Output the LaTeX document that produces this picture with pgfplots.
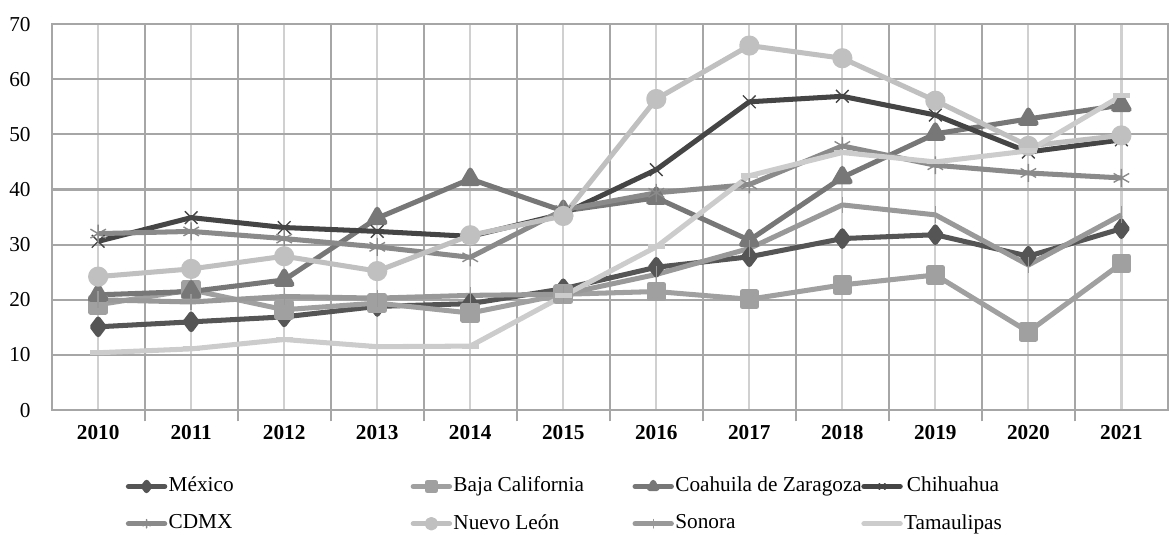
\documentclass[border=0pt]{standalone}
\usepackage{fontspec}
\setmainfont{Liberation Serif}
\usepackage{pgfplots}
\pgfplotsset{compat=1.18}
\definecolor{cmex}{HTML}{555555}
\definecolor{cbaja}{HTML}{A0A0A0}
\definecolor{ccoah}{HTML}{777777}
\definecolor{cchih}{HTML}{454545}
\definecolor{ccdmx}{HTML}{8A8A8A}
\definecolor{cnl}{HTML}{C0C0C0}
\definecolor{cson}{HTML}{999999}
\definecolor{ctam}{HTML}{CCCCCC}
\definecolor{cgrid}{HTML}{A6A6A6}
\definecolor{cgridl}{HTML}{D0D0D0}
\newcommand{\figfont}{\fontsize{7.6}{9}\selectfont}
\newcommand{\lw}[2]{\makebox[#1][l]{#2}}
\begin{document}
\begin{tikzpicture}
\begin{axis}[
  width=399pt, height=138pt, scale only axis,
  xmin=-0.5, xmax=11.5, ymin=0, ymax=70,
  xtick={0,...,11},
  xticklabels={\textbf{2010},\textbf{2011},\textbf{2012},\textbf{2013},\textbf{2014},\textbf{2015},\textbf{2016},\textbf{2017},\textbf{2018},\textbf{2019},\textbf{2020},\textbf{2021}},
  minor x tick num=1,
  ytick={0,10,...,70},
  xmajorgrids, xminorgrids, ymajorgrids,
  major x grid style={cgridl, line width=0.8pt},
  minor x grid style={cgrid, line width=0.8pt},
  major y grid style={cgrid, line width=0.8pt},
  axis line style={cgrid, line width=0.8pt},
  tick pos=left, tick align=outside,
  major tick length=0pt, minor tick length=4pt,
  minor tick style={cgrid, line width=0.8pt},
  tick label style={font=\figfont},
  /pgf/number format/assume math mode=true,
  yticklabel style={xshift=-4pt},
  xticklabel style={yshift=-2pt},
  every axis plot/.append style={line width=1.8pt, line join=round},
  legend columns=4,
  legend style={draw=none, fill=none, font=\figfont, at={(0.066,-0.168)}, anchor=north west,
    inner sep=0pt, row sep=5.5pt, column sep=0pt,
    nodes={inner sep=0.5pt}},
  legend image code/.code={\draw[mark repeat=2,mark phase=2,#1,line cap=round,mark size=1.5pt] plot coordinates {(0pt,0pt) (6.5pt,0pt) (13pt,0pt)};},
]
\addplot[cmex, mark=diamond*, mark size=2.8pt] coordinates {(0,15.1) (1,16.0) (2,16.9) (3,18.8) (4,19.3) (5,22.0) (6,25.9) (7,27.8) (8,31.1) (9,31.8) (10,27.9) (11,32.9)};
\addlegendentry{\lw{86pt}{México}}
\addplot[cbaja, mark=square*, mark size=2.6pt] coordinates {(0,19.1) (1,21.8) (2,18.2) (3,19.4) (4,17.6) (5,21.0) (6,21.5) (7,20.1) (8,22.7) (9,24.5) (10,14.2) (11,26.6)};
\addlegendentry{\lw{63.5pt}{Baja California}}
\addplot[ccoah, mark=triangle*, mark size=3.2pt] coordinates {(0,20.9) (1,21.5) (2,23.6) (3,34.8) (4,41.9) (5,36.1) (6,38.5) (7,30.8) (8,42.2) (9,50.1) (10,52.8) (11,55.3)};
\addlegendentry{\lw{66pt}{Coahuila de Zaragoza}}
\addplot[cchih, mark=x, mark size=3.2pt, mark options={line width=0.5pt}] coordinates {(0,30.6) (1,34.9) (2,33.1) (3,32.4) (4,31.5) (5,35.6) (6,43.6) (7,55.9) (8,56.9) (9,53.5) (10,46.8) (11,49.0)};
\addlegendentry{Chihuahua}
\addplot[ccdmx, mark=asterisk, mark size=3.2pt, mark options={line width=0.5pt}] coordinates {(0,32.0) (1,32.4) (2,31.1) (3,29.6) (4,27.7) (5,36.3) (6,39.4) (7,40.9) (8,47.9) (9,44.4) (10,43.0) (11,42.1)};
\addlegendentry{\lw{86pt}{CDMX}}
\addplot[cnl, mark=*, mark size=2.7pt] coordinates {(0,24.2) (1,25.6) (2,27.9) (3,25.2) (4,31.7) (5,35.2) (6,56.4) (7,66.1) (8,63.8) (9,56.1) (10,47.9) (11,49.8)};
\addlegendentry{\lw{63.5pt}{Nuevo León}}
\addplot[cson, mark=|, mark size=3pt, mark options={line width=0.5pt}] coordinates {(0,20.0) (1,19.6) (2,20.6) (3,20.3) (4,20.8) (5,21.0) (6,24.6) (7,29.3) (8,37.2) (9,35.4) (10,26.3) (11,35.4)};
\addlegendentry{\lw{66pt}{Sonora}}
\addplot[ctam, mark=-, mark size=3pt] coordinates {(0,10.4) (1,11.1) (2,12.8) (3,11.5) (4,11.6) (5,20.7) (6,29.6) (7,42.5) (8,46.7) (9,45.0) (10,47.0) (11,57.0)};
\addlegendentry{Tamaulipas}
\end{axis}
\path (current axis.north) ++(0,8.6pt);
\end{tikzpicture}
\end{document}
